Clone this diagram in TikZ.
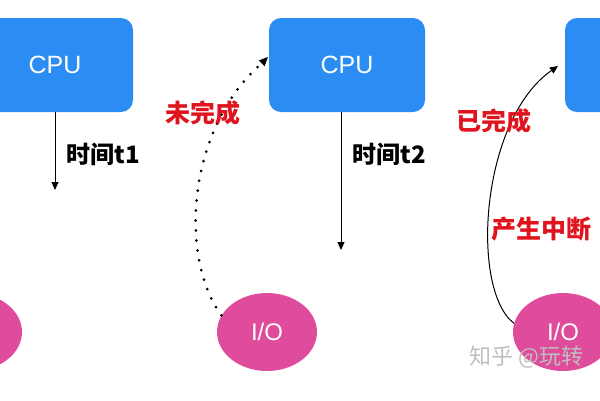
\documentclass[tikz,border=0pt]{standalone}
\usepackage{fontspec}
\setmainfont{Liberation Sans}
\newfontfamily\cjk{Noto Sans CJK SC}
\usepackage{xcolor}
\usetikzlibrary{shapes.geometric, arrows.meta, positioning, calc}

\definecolor{cpublue}{HTML}{2B8CF3}
\definecolor{iopink}{HTML}{E04C9C}
\definecolor{labred}{HTML}{E0141E}

\begin{document}
\begin{tikzpicture}[x=1pt, y=-1pt,
    cpubox/.style={rectangle, rounded corners=12pt, fill=cpublue, minimum width=156pt, minimum height=94pt, text=white, font=\fontsize{25}{25}\selectfont},
    iobox/.style={ellipse, fill=iopink, minimum width=100pt, minimum height=78pt, text=white, font=\fontsize{24}{24}\selectfont},
    timelab/.style={right, font=\cjk\bfseries\fontsize{24}{24}\selectfont},
    redlab/.style={text=labred, font=\cjk\bfseries\fontsize{25}{25}\selectfont},
    tip/.style={-{Triangle[length=8pt, width=7pt]}, line width=1pt}]
\useasboundingbox (0,0) rectangle (600,400);
\clip (0,0) rectangle (600,400);

% CPU boxes
\node[cpubox] (cpu1) at (55,65) {CPU};
\node[cpubox] (cpu2) at (347,65) {CPU};
\node[cpubox] (cpu3) at (643,65) {CPU};

% I/O devices
\node[iobox] (io1) at (-28,332) {I/O};
\node[iobox] (io2) at (267,332) {I/O};
\node[iobox] (io3) at (563,332) {I/O};

% time arrows
\coordinate (t1end) at (55,190);
\coordinate (t2end) at (341,250);
\draw[tip] (cpu1.south) -- (t1end);
\draw[tip] (t2end |- cpu2.south) -- (t2end);
\node[timelab] (t1) at (63,154) {时间t1};
\node[timelab] (t2) at (349,154) {时间t2};

% not finished yet
\coordinate (wait) at (268,57);
\draw[line width=3pt, line cap=round, dash pattern=on 0pt off 10pt] (io2.160) .. controls (180,260) and (185,130) .. ($(wait)+(-6,6)$);
\draw[-{Triangle[length=9pt, width=8pt]}, line width=1pt] ($(wait)+(-4,4)$) -- (wait);
\node[redlab] (undone) at (203,113) {未完成};

% finished, interrupt
\coordinate (irq) at (558,66);
\draw[tip] (io3.170) .. controls (470,290) and (480,120) .. (irq);
\node[redlab] (done) at (494,121) {已完成};
\node[redlab] (intr) at (541,229) {产生中断};

% watermark
\node[right, text=black!25, font=\cjk\fontsize{22}{22}\selectfont] (mark) at (466,357) {知乎 @玩转};
\end{tikzpicture}
\end{document}
